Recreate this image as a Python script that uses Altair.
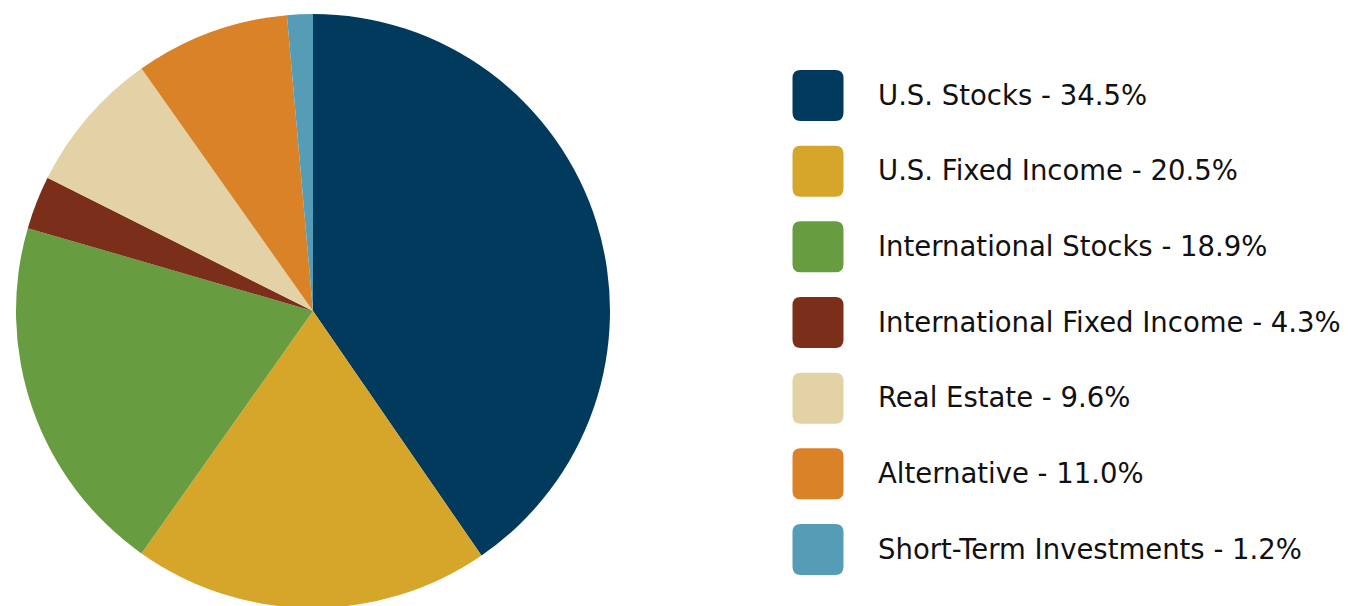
import altair as alt
import pandas as pd

categories = ["U.S. Stocks", "U.S. Fixed Income", "International Stocks",
              "International Fixed Income", "Real Estate", "Alternative",
              "Short-Term Investments"]
label_pct = ["34.5%", "20.5%", "18.9%", "4.3%", "9.6%", "11.0%", "1.2%"]
slice_values = [40.4, 19.4, 19.7, 2.9, 7.8, 8.4, 1.4]
colors = ["#013a5c", "#d5a629", "#679c41", "#7b2e19", "#e2d2a6", "#da8228", "#559db6"]

df = pd.DataFrame({
    "cat": categories,
    "value": slice_values,
    "order": list(range(len(categories))),
    "label": [f"{c} - {p}" for c, p in zip(categories, label_pct)],
})

color_scale = alt.Scale(domain=categories, range=colors)

pie = alt.Chart(df).mark_arc(strokeWidth=0).encode(
    theta=alt.Theta("value:Q", stack=True),
    order=alt.Order("order:Q"),
    color=alt.Color("cat:N", scale=color_scale, legend=None),
    x=alt.value(313),
    y=alt.value(311),
    radius=alt.value(297),
)

ysc = alt.Scale(domain=[0, 6], range=[95.5, 549.5])
rounded = "M-1,-0.68 Q-1,-1 -0.68,-1 L0.68,-1 Q1,-1 1,-0.68 L1,0.68 Q1,1 0.68,1 L-0.68,1 Q-1,1 -1,0.68 Z"

swatch = alt.Chart(df).mark_point(filled=True, opacity=1, shape=rounded, size=2601, strokeWidth=0).encode(
    x=alt.value(818),
    y=alt.Y("order:Q", scale=ysc, axis=None),
    color=alt.Color("cat:N", scale=color_scale, legend=None),
)

text = alt.Chart(df).mark_text(align="left", baseline="middle", font="DejaVu Sans",
                               fontSize=27.5, color="#111111", dy=1).encode(
    x=alt.value(878),
    y=alt.Y("order:Q", scale=ysc, axis=None),
    text="label:N",
)

chart = alt.layer(pie, swatch, text).properties(
    width=1348, height=606, padding=0, autosize="none"
).configure_view(strokeWidth=0)

chart.save("out.html", embed_options={"renderer": "svg", "actions": False})
